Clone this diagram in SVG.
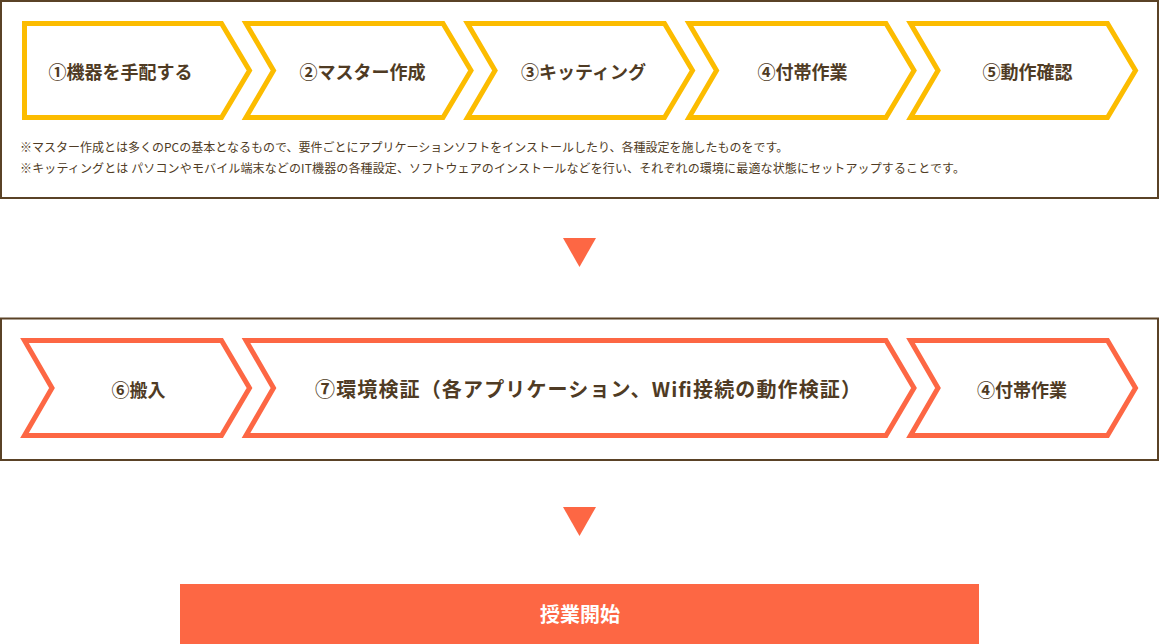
<svg xmlns="http://www.w3.org/2000/svg" width="1160" height="644" viewBox="0 0 1160 644">
  <style>
    .frame { fill: #ffffff; stroke: #5a4226; stroke-width: 2; }
    .chev-y { fill: #ffffff; stroke: #fcbc00; stroke-width: 5; stroke-linejoin: miter; }
    .chev-o { fill: #ffffff; stroke: #fd6744; stroke-width: 5; stroke-linejoin: miter; }
    .lbl { font-family: "Noto Sans CJK JP", "Noto Sans", sans-serif; font-weight: 700; font-size: 18px; fill: #4f3b24; text-anchor: middle; }
    .note { font-family: "Noto Sans CJK JP", "Noto Sans", sans-serif; font-weight: 400; font-size: 12px; fill: #4f3b24; }
    .arrow { fill: #fd6744; }
    .final { fill: #fd6744; }
    .final-lbl { font-family: "Noto Sans CJK JP", "Noto Sans", sans-serif; font-weight: 700; font-size: 20px; fill: #ffffff; text-anchor: middle; }
  </style>
  <rect width="1160" height="644" fill="#ffffff"/>

  <g id="phase1">
    <rect class="frame" x="1" y="1" width="1157" height="197"/>
    <text class="note" x="20" y="152">※マスター作成とは多くのPCの基本となるもので、要件ごとにアプリケーションソフトをインストールしたり、各種設定を施したものをです。</text>
    <text class="note" x="20" y="173" textLength="945" lengthAdjust="spacing">※キッティングとは パソコンやモバイル端末などのIT機器の各種設定、ソフトウェアのインストールなどを行い、それぞれの環境に最適な状態にセットアップすることです。</text>
  </g>

  <g id="step1">
    <path class="chev-y" d="M24.5,23.5 H221.5 L249.5,70.5 L221.5,117.5 H24.5 Z"/>
    <text class="lbl" x="120.5" y="79">①機器を手配する</text>
  </g>
  <g id="step2">
    <path class="chev-y" d="M246,23.5 H443 L471,70.5 L443,117.5 H246 L273.5,70.5 Z"/>
    <text class="lbl" x="362.5" y="79">②マスター作成</text>
  </g>
  <g id="step3">
    <path class="chev-y" d="M467.5,23.5 H664.5 L692.5,70.5 L664.5,117.5 H467.5 L495,70.5 Z"/>
    <text class="lbl" x="583.5" y="79">③キッティング</text>
  </g>
  <g id="step4">
    <path class="chev-y" d="M689,23.5 H886 L914,70.5 L886,117.5 H689 L716.5,70.5 Z"/>
    <text class="lbl" x="802.5" y="79">④付帯作業</text>
  </g>
  <g id="step5">
    <path class="chev-y" d="M910.5,23.5 H1107.5 L1135.5,70.5 L1107.5,117.5 H910.5 L938,70.5 Z"/>
    <text class="lbl" x="1027.5" y="79">⑤動作確認</text>
  </g>

  <g id="phase2">
    <rect class="frame" x="1" y="318.5" width="1157" height="141.5"/>
  </g>

  <g id="step6">
    <path class="chev-o" d="M24.5,340.5 H221.5 L249.5,388 L221.5,435.5 H24.5 L52,388 Z"/>
    <text class="lbl" x="138.5" y="397">⑥搬入</text>
  </g>
  <g id="step7">
    <path class="chev-o" d="M246,340.5 H886 L914,388 L886,435.5 H246 L273.5,388 Z"/>
    <text class="lbl" x="315" y="397" style="font-size:20px;text-anchor:start" textLength="546" lengthAdjust="spacing">⑦環境検証（各アプリケーション、Wifi接続の動作検証）</text>
  </g>
  <g id="step8">
    <path class="chev-o" d="M910.5,340.5 H1107.5 L1135.5,388 L1107.5,435.5 H910.5 L938,388 Z"/>
    <text class="lbl" x="1022" y="397">④付帯作業</text>
  </g>

  <g id="start">
    <rect class="final" x="180" y="584" width="799" height="60"/>
    <text class="final-lbl" x="580" y="622">授業開始</text>
  </g>

  <g id="connectors">
    <polygon class="arrow" points="563,238 596,238 579.5,267"/>
    <polygon class="arrow" points="563,507 596,507 579.5,536"/>
  </g>
</svg>
